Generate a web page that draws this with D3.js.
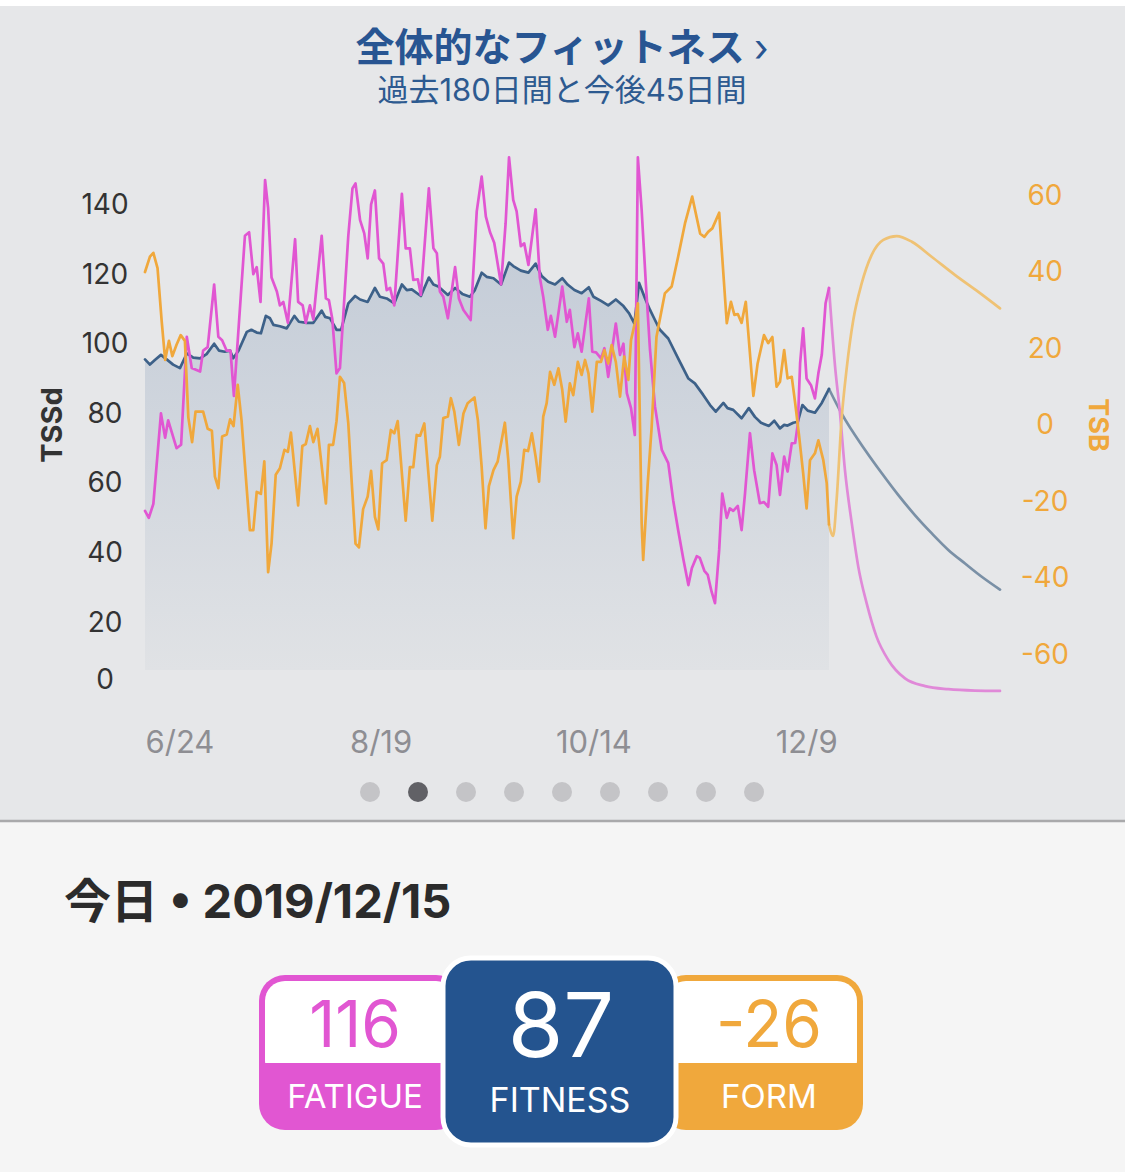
<!DOCTYPE html>
<html>
<head>
<meta charset="utf-8">
<script src="https://cdn.jsdelivr.net/npm/d3@7"></script>
<style>
  body { margin: 0; background: #fff; }
  svg { display: block; font-family: Inter, "Noto Sans CJK JP", sans-serif; }
</style>
</head>
<body>
<svg id="chart" width="1125" height="1172"></svg>
<script>
// day index 0 = 2019/6/18, day 180 = today (12/15), day 225 = end of projection
const xTickDays = [6, 62, 118, 174];
const xTickLabels = ['6/24', '8/19', '10/14', '12/9'];
const tssTicks = [0, 20, 40, 60, 80, 100, 120, 140];
const tsbTicks = [-60, -40, -20, 0, 20, 40, 60];

// [day, TSSd]
const fatiguePast = [[0,52],[1,50],[2.2,54],[4.2,80],[5.3,73],[6.1,78],[8.3,70],[9.5,71],[11,102],[12.3,93],[14.5,92],[15.3,98],[16.5,99],[18.2,117],[19.3,102],[20.3,101],[21.5,98],[22.5,98],[23.4,85],[26.3,131],[27.4,132],[28.5,120],[29.4,122],[30.4,112],[31.6,147],[32.4,139],[33.3,119],[34.7,115],[35.5,111],[36.4,112],[37.6,106],[39.5,130],[40.3,112],[41.5,111],[42.3,106],[43.4,111],[44.3,107],[45.2,117],[46.5,131],[47.6,113],[48.4,112.5],[49.3,107],[50.4,91.5],[51.3,93],[53.5,131],[54.6,144.6],[55.4,146],[56.6,135.5],[57.7,131.7],[58.6,124.5],[59.5,140],[60.5,144],[61.6,124.5],[62.7,123],[63.6,115.4],[64.5,116],[65.6,111],[67.6,143],[68.6,127.4],[69.7,127.4],[70.6,118.3],[71.8,118.5],[72.6,114],[74.7,144.6],[75.9,127.4],[76.8,126],[77.6,115],[78.5,113.5],[79.7,107.3],[81.6,122],[82.6,113],[83.8,109.7],[85.7,106.8],[87.3,138],[88.6,148],[89.7,136.5],[90.8,132],[91.9,129],[93.7,117],[94.9,134.6],[95.8,153.5],[96.9,141.3],[97.8,138],[98.9,128],[99.8,128.8],[100.9,122.6],[102.8,138.6],[103.9,119],[104.8,113.5],[106,104],[106.8,108],[107.9,102],[109.8,116.4],[111,106.3],[111.8,109.7],[113,99],[113.9,103],[114.9,97.7],[116.8,113],[117.7,97.7],[118.7,97.5],[120,95.8],[120.9,98.7],[121.9,90.5],[123.9,105.8],[125,96.8],[125.9,100],[126.8,85.8],[127.9,81.5],[128.9,73.8],[129.7,153.5],[130.7,138.4],[131.8,117.3],[132.9,98.2],[134.2,82],[136,69.5],[137.7,65.7],[139,55],[140.3,46.5],[141.7,38],[143,30.7],[143.9,35.5],[145.2,39],[146,38.5],[147.2,34.8],[148.1,33.6],[149.1,28.8],[150,25.5],[151.1,40.8],[151.9,57],[153.1,50],[153.9,52.7],[154.8,52],[156,53.4],[157,46.5],[157.9,57],[159.2,74.3],[160.3,63.7],[161.8,54.2],[162.9,54.5],[164,53.2],[165.1,68.5],[166.2,65.2],[167.1,56.6],[168.2,67.6],[169.1,63.3],[170.2,71.4],[171.1,71.5],[171.8,77],[172.4,94.4],[173.2,104.4],[174.1,90],[175.3,88],[176.3,84.3],[177.2,91.5],[178.1,96.8],[179.1,111.6],[180,116]];
const fatigueFuture = [[180,116],[181.6,93.4],[182.9,80],[184.2,63.7],[186,48.4],[187.7,36],[189.9,25.5],[192.5,15.9],[195.6,9.2],[200,3.9],[205.3,1.7],[211.4,0.8],[218.4,0.4],[225,0.3]];

const fitnessPast = [[0,95.5],[1.3,94],[2.6,95.3],[4.2,96.8],[5.7,95.5],[7.4,94],[9.2,93],[11,97.2],[12.7,96],[14.5,95.8],[16.2,97],[18.2,100],[19.5,98],[21,97.7],[22.4,98],[23.2,95.8],[24.6,98],[26.8,103.4],[28,104],[29.4,103.2],[30.5,103],[31.8,108],[32.9,107.3],[33.8,105.4],[35.5,105],[37.3,104.4],[39.3,108],[40.5,106.3],[42.6,106],[44.3,106],[46.5,109.5],[47.4,107.7],[48.7,107.3],[50.4,104],[51.6,104],[53.5,111.6],[55.3,113.7],[56.6,112.7],[58.6,112],[60.5,116],[61.8,113.5],[63.6,113],[65.6,111.6],[67.6,117],[68.9,115.4],[70.2,115.6],[72.6,113.7],[74.7,119],[75.9,117],[77.2,116.4],[79.7,114],[81.6,116],[83.5,114.3],[85.5,113.5],[86.8,115.4],[88.6,120.4],[89.9,119.2],[91.7,118.8],[93.7,117],[95.8,123.3],[96.9,122.3],[98.9,121],[100.9,120.4],[102.8,123],[104.4,119.4],[106.1,117.8],[107.9,117],[109.8,118.8],[111.2,117],[113,115.4],[114.9,114.5],[116.8,116.2],[118,113.5],[120,112.3],[121.9,111],[123.9,112.7],[125.9,110.8],[127.4,108.7],[128.8,105.8],[130,117.5],[131.6,113],[132.9,109.7],[134.2,106.8],[135.5,104],[137.7,101.5],[140.3,95.8],[143,90],[144.7,88.6],[146.9,85.3],[148.7,82.4],[150.2,80.5],[152.2,83],[153.3,81.5],[154.8,81],[157,78.6],[158.9,81.5],[160.5,79],[162.1,77.3],[164.2,76.4],[165.6,77.9],[167.1,75.7],[168.2,76.7],[169.1,76.5],[170.6,77.3],[171.8,77.6],[173,82.4],[174.4,80.8],[176.3,80.2],[178.1,83],[180,87]];
const fitnessFuture = [[180,87],[183.3,80],[189.5,69.5],[193.9,62.8],[198.2,56.6],[202.6,50.8],[207,45.6],[211.4,40.8],[215.8,36.9],[220.2,33.1],[225,29.4]];

// [day, TSB]
const formPast = [[0,40],[1.3,44],[2.2,45],[3.3,41],[4.4,27],[5.3,17],[6.3,22],[7.2,18],[8.3,21],[9.4,23.5],[10.5,22],[11.4,2],[12.4,-4.5],[13.3,3.5],[15.3,3.5],[16.5,-1],[17.6,-1.5],[18.4,-13.5],[19.3,-16.5],[20.3,-3],[21.5,-2.5],[22.4,1.5],[23.3,-0.3],[24.4,10.5],[25.4,1.3],[27.6,-27.5],[28.5,-27.5],[29.4,-17.5],[30.5,-18],[31.4,-9.5],[32.4,-38.5],[33.3,-31],[34.4,-13],[35.5,-11.3],[36.7,-6.5],[37.6,-7],[38.4,-2],[40.3,-21],[41.4,-5.5],[42.3,-5],[43.4,-0.3],[44.3,-4.5],[45.4,-1],[47.6,-20.5],[48.4,-5.2],[49.5,-5.2],[50.4,1],[51.3,12.6],[52.4,11],[53.5,0.4],[54.4,-15],[55.4,-31],[56.3,-32],[57.4,-22],[58.6,-18.7],[59.5,-12],[60.5,-24],[61.4,-27.3],[62.4,-10],[63.6,-9.2],[64.7,-1.3],[65.6,-2.2],[66.5,1],[68.6,-25],[69.7,-11],[70.6,-11],[71.5,-2.6],[72.4,-2.8],[73.5,0.4],[75.6,-25],[76.8,-10.5],[77.6,-8.3],[78.5,1.8],[79.7,2.2],[80.5,7],[81.4,3.5],[82.6,-5.2],[83.8,3],[84.9,5.7],[86.7,7.2],[87.6,1.3],[88.6,-11],[89.6,-27],[90.5,-16],[91.7,-11.8],[92.8,-9.6],[94.7,0.6],[95.6,-9.2],[96.9,-29.6],[97.8,-18.7],[98.9,-14.8],[99.8,-6.5],[100.8,-6.8],[101.8,-2.2],[102.8,-8.3],[103.7,-14.8],[104.8,2.2],[105.7,5.7],[106.6,13.9],[107.7,10.5],[108.8,14.8],[109.8,9.2],[110.7,0.9],[111.8,10.9],[112.7,7.8],[113.9,16.5],[114.9,13.1],[115.8,17],[116.7,13.5],[117.7,3.5],[118.9,16.5],[120,16.5],[120.9,19.6],[121.9,16.1],[122.8,20.9],[123.9,16.5],[125,7.4],[126.1,17.9],[127.2,11.8],[127.9,22.2],[128.9,26.6],[129.7,31.8],[130.7,-25.7],[131.1,-35.3],[132.3,-15.2],[133.3,-1],[134.6,23.1],[136.8,34.4],[138.6,36.2],[140.3,44],[142.1,52.7],[144,59.7],[146.1,50],[147.2,49.2],[148.2,50.5],[149.3,51.4],[151.1,55.5],[153.1,26.6],[154.2,32.2],[155.1,28.8],[156,29],[157,26.7],[158.1,32.2],[160.1,7.6],[161.2,16],[162.9,23.5],[164,21.4],[165.1,23],[166.2,10],[167.1,11.3],[168.2,19.6],[169.1,12.2],[170.2,12.6],[171.1,5.7],[172.1,-2.6],[173.2,-12.6],[174.1,-21.8],[175,-9.2],[176.3,-7.4],[177.2,-4],[178.5,-9.2],[179.4,-15.2],[180,-26]];
const formFuture = [[180,-26],[181.1,-29],[182,-19.6],[183.3,1.3],[184.7,15.2],[186.4,27.5],[188.6,37],[191.2,44.4],[194.3,48.4],[197.8,49.4],[201.8,47.9],[207,44],[213.2,39.2],[219.3,34.8],[225,30.5]];

const todayLabel = '今日 • 2019/12/15';
const cards = [
  { key: 'fatigue', value: 116, label: 'FATIGUE' },
  { key: 'fitness', value: 87, label: 'FITNESS' },
  { key: 'form', value: -26, label: 'FORM' }
];

const PINK = '#e156d2';
const ORANGE = '#f0a83c';
const NAVY = '#24548f';
const plotBottom = 670;

const svg = d3.select('#chart');

// backgrounds
svg.append('rect').attr('width', 1125).attr('height', 1172).attr('fill', '#fff');
svg.append('rect').attr('y', 6).attr('width', 1125).attr('height', 815).attr('fill', '#e6e7e9');
svg.append('rect').attr('y', 821).attr('width', 1125).attr('height', 351).attr('fill', '#f5f5f5');
svg.append('line').attr('x1', 0).attr('x2', 1125).attr('y1', 821).attr('y2', 821)
  .attr('stroke', '#a9a9ab').attr('stroke-width', 2.5);

// title
const title = svg.append('text')
  .attr('x', 562).attr('y', 61)
  .attr('text-anchor', 'middle')
  .attr('fill', '#285592')
  .attr('font-size', 39)
  .attr('font-weight', 700)
  .text('全体的なフィットネス ');
title.append('tspan').attr('font-weight', 400).attr('font-size', 38).text('›');

svg.append('text')
  .attr('x', 562).attr('y', 101)
  .attr('text-anchor', 'middle')
  .attr('fill', '#2d5a90')
  .attr('font-size', 31)
  .text('過去180日間と今後45日間');

// scales
const x = d3.scaleLinear().domain([0, 225]).range([145, 1000]);
const yL = d3.scaleLinear().domain([0, 140]).range([692, 204.4]);
const yR = d3.scaleLinear().domain([-60, 60]).range([654.5, 195.5]);

// fitness fill
const defs = svg.append('defs');
const grad = defs.append('linearGradient')
  .attr('id', 'fitGrad')
  .attr('gradientUnits', 'userSpaceOnUse')
  .attr('x1', 0).attr('x2', 0).attr('y1', 260).attr('y2', plotBottom);
grad.append('stop').attr('offset', 0).attr('stop-color', '#c5cdd8');
grad.append('stop').attr('offset', 1).attr('stop-color', '#e0e2e5');

const area = d3.area()
  .x(d => x(d[0]))
  .y0(plotBottom)
  .y1(d => yL(d[1]));

svg.append('path')
  .datum(fitnessPast)
  .attr('d', area)
  .attr('fill', 'url(#fitGrad)');

// axes
const leftAxis = svg.append('g')
  .attr('transform', 'translate(105,0)')
  .call(d3.axisLeft(yL).tickValues(tssTicks).tickSize(0).tickPadding(0));
leftAxis.select('.domain').remove();
leftAxis.selectAll('text')
  .attr('x', 0)
  .attr('text-anchor', 'middle')
  .attr('font-size', 28)
  .attr('font-family', 'Inter, sans-serif')
  .attr('fill', '#333');
// the 0 label sits a little higher than the scale would put it
leftAxis.selectAll('.tick').filter(d => d === 0).select('text').attr('dy', '-0.14em');

const rightAxis = svg.append('g')
  .attr('transform', 'translate(1045,0)')
  .call(d3.axisRight(yR).tickValues(tsbTicks).tickSize(0).tickPadding(0)
    .tickFormat(d => String(d)));
rightAxis.select('.domain').remove();
rightAxis.selectAll('text')
  .attr('x', 0)
  .attr('text-anchor', 'middle')
  .attr('font-size', 28)
  .attr('font-family', 'Inter, sans-serif')
  .attr('fill', ORANGE);

const bottomAxis = svg.append('g')
  .attr('transform', 'translate(0,742)')
  .call(d3.axisBottom(x).tickValues(xTickDays).tickSize(0).tickPadding(0)
    .tickFormat((d, i) => xTickLabels[i]));
bottomAxis.select('.domain').remove();
bottomAxis.selectAll('text')
  .attr('font-size', 31)
  .attr('font-family', 'Inter, sans-serif')
  .attr('fill', '#8e8e93')
  .attr('dy', '0.35em');
// keep labels inside the plot's left edge
bottomAxis.selectAll('.tick').each(function (d) {
  const t = d3.select(this).select('text');
  const w = t.node().getComputedTextLength();
  if (x(d) - w / 2 < x(0)) t.attr('x', x(0) + w / 2 - x(d));
});

svg.append('text')
  .attr('transform', 'translate(52,425) rotate(-90)')
  .attr('text-anchor', 'middle')
  .attr('dy', '0.35em')
  .attr('font-size', 29)
  .attr('font-weight', 700)
  .attr('fill', '#333')
  .text('TSSd');

svg.append('text')
  .attr('transform', 'translate(1098,425) rotate(90)')
  .attr('text-anchor', 'middle')
  .attr('dy', '0.35em')
  .attr('font-size', 27)
  .attr('font-weight', 700)
  .attr('fill', ORANGE)
  .text('TSB');

// lines
const lineL = d3.line().x(d => x(d[0])).y(d => yL(d[1]));
const lineR = d3.line().x(d => x(d[0])).y(d => yR(d[1]));
const lineLs = d3.line().x(d => x(d[0])).y(d => yL(d[1])).curve(d3.curveMonotoneX);
const lineRs = d3.line().x(d => x(d[0])).y(d => yR(d[1])).curve(d3.curveMonotoneX);

const drawLine = (data, gen, color, width) => svg.append('path')
  .datum(data)
  .attr('d', gen)
  .attr('fill', 'none')
  .attr('stroke', color)
  .attr('stroke-width', width)
  .attr('stroke-linejoin', 'round')
  .attr('stroke-linecap', 'round');

drawLine(fitnessFuture, lineLs, '#7a90a6', 2.7);
drawLine(fatigueFuture, lineLs, '#e089d8', 2.7);
drawLine(formFuture, lineRs, '#efc274', 2.7);

drawLine(fitnessPast, lineL, '#3d6189', 2.7);
drawLine(fatiguePast, lineL, PINK, 2.7);
drawLine(formPast, lineR, ORANGE, 2.7);

// page dots
svg.append('g')
  .selectAll('circle')
  .data(d3.range(9))
  .enter()
  .append('circle')
  .attr('cx', i => 370 + i * 48)
  .attr('cy', 792)
  .attr('r', 10)
  .attr('fill', i => (i === 1 ? '#616166' : '#c4c4c7'));

// today
svg.append('text')
  .attr('x', 64).attr('y', 918)
  .attr('font-size', 47)
  .attr('font-weight', 700)
  .attr('fill', '#2b2b2b')
  .text(todayLabel);

// cards
const sideCard = (x0, color) => {
  const g = svg.append('g');
  g.append('rect')
    .attr('x', x0).attr('y', 975).attr('width', 203).attr('height', 155)
    .attr('rx', 26).attr('fill', color);
  g.append('rect')
    .attr('x', x0 + 6).attr('y', 981).attr('width', 191).attr('height', 100)
    .attr('rx', 20).attr('fill', '#fff');
  g.append('rect')
    .attr('x', x0 + 6).attr('y', 1063).attr('width', 191).attr('height', 25)
    .attr('fill', color);
  return g;
};

const fatigueCard = sideCard(259, PINK);
fatigueCard.append('text')
  .attr('x', 355).attr('y', 1047)
  .attr('text-anchor', 'middle')
  .attr('font-size', 64)
  .attr('font-family', 'Inter, sans-serif')
  .attr('fill', PINK)
  .text(cards[0].value);
fatigueCard.append('text')
  .attr('x', 355).attr('y', 1108)
  .attr('text-anchor', 'middle')
  .attr('font-size', 33)
  .attr('font-family', 'Inter, sans-serif')
  .attr('fill', '#fff')
  .text(cards[0].label);

const formCard = sideCard(660, ORANGE);
formCard.append('text')
  .attr('x', 769).attr('y', 1047)
  .attr('text-anchor', 'middle')
  .attr('font-size', 64)
  .attr('font-family', 'Inter, sans-serif')
  .attr('fill', ORANGE)
  .text(cards[2].value);
formCard.append('text')
  .attr('x', 769).attr('y', 1108)
  .attr('text-anchor', 'middle')
  .attr('font-size', 33)
  .attr('font-family', 'Inter, sans-serif')
  .attr('fill', '#fff')
  .text(cards[2].label);

const fitCard = svg.append('g');
fitCard.append('rect')
  .attr('x', 443).attr('y', 958).attr('width', 233).attr('height', 187)
  .attr('rx', 28)
  .attr('fill', NAVY)
  .attr('stroke', '#fff')
  .attr('stroke-width', 5);
fitCard.append('text')
  .attr('x', 561).attr('y', 1057)
  .attr('text-anchor', 'middle')
  .attr('font-size', 90)
  .attr('font-family', 'Inter, sans-serif')
  .attr('fill', '#fff')
  .text(cards[1].value);
fitCard.append('text')
  .attr('x', 560).attr('y', 1112)
  .attr('text-anchor', 'middle')
  .attr('font-size', 34)
  .attr('font-family', 'Inter, sans-serif')
  .attr('fill', '#fff')
  .text(cards[1].label);
</script>
</body>
</html>
